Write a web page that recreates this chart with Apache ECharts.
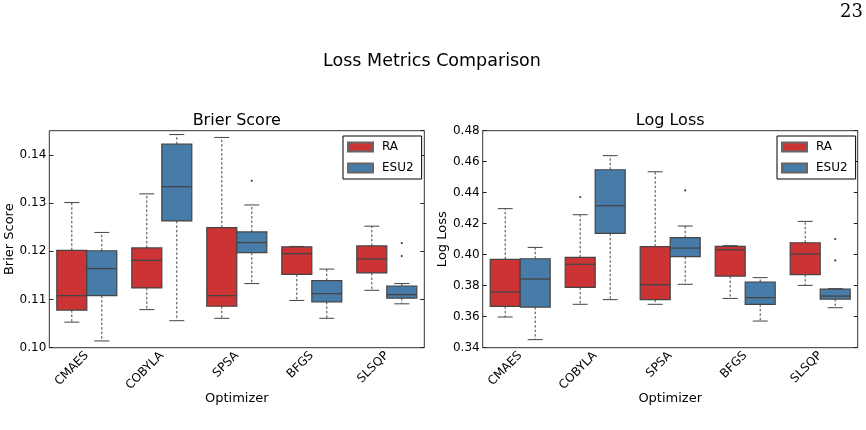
<!DOCTYPE html>
<html>
<head>
<meta charset="utf-8">
<script src="https://cdn.jsdelivr.net/npm/echarts@6/dist/echarts.min.js"></script>
<style>
html, body { margin: 0; padding: 0; background: #fff; }
#chart { width: 866px; height: 430px; }
</style>
</head>
<body>
<div id="chart"></div>
<script>
var optimizers = ['CMAES', 'COBYLA', 'SPSA', 'BFGS', 'SLSQP'];

// box stats per optimizer: [lower whisker, q1, median, q3, upper whisker]
var brierRA = [
    [0.1053, 0.1078, 0.1108, 0.1202, 0.1301],
    [0.1079, 0.1124, 0.1181, 0.1207, 0.1319],
    [0.1061, 0.1086, 0.1108, 0.1249, 0.1436],
    [0.1098, 0.1152, 0.1195, 0.1209, 0.1210],
    [0.1119, 0.1155, 0.1184, 0.1211, 0.1252]
];
var brierESU2 = [
    [0.1014, 0.1108, 0.1164, 0.1201, 0.1239],
    [0.1056, 0.1263, 0.1334, 0.1422, 0.1442],
    [0.1133, 0.1197, 0.1218, 0.1240, 0.1296],
    [0.1061, 0.1095, 0.1112, 0.1139, 0.1163],
    [0.1091, 0.1103, 0.1110, 0.1128, 0.1133]
];
// outliers: [optimizer index, value]
var brierOutRA = [];
var brierOutESU2 = [[2, 0.1346], [4, 0.1217], [4, 0.1190]];

var logRA = [
    [0.3598, 0.3667, 0.3759, 0.3970, 0.4297],
    [0.3680, 0.3789, 0.3938, 0.3983, 0.4258],
    [0.3680, 0.3710, 0.3806, 0.4052, 0.4535],
    [0.3718, 0.3862, 0.4032, 0.4054, 0.4058],
    [0.3802, 0.3871, 0.4004, 0.4077, 0.4215]
];
var logESU2 = [
    [0.3452, 0.3662, 0.3843, 0.3974, 0.4047],
    [0.3710, 0.4138, 0.4316, 0.4548, 0.4639],
    [0.3809, 0.3987, 0.4043, 0.4110, 0.4185],
    [0.3572, 0.3680, 0.3723, 0.3824, 0.3852],
    [0.3658, 0.3714, 0.3733, 0.3778, 0.3781]
];
var logOutRA = [[1, 0.4372]];
var logOutESU2 = [[2, 0.4415], [4, 0.4101], [4, 0.3963]];

// y axis ranges
var brierMin = 0.10, brierMax = 0.145, brierStep = 0.01;
var logMin = 0.34, logMax = 0.48, logStep = 0.02;

var RED = '#cb3335', BLUE = '#477ca8', EDGE = '#444444';
var FONT = 'DejaVu Sans';

function boxData(stats) {
    return stats.map(function (s, i) { return [i].concat(s); });
}

function boxRender(side) {
    return function (params, api) {
        var i = api.value(0);
        var band = api.size([1, 0])[0];
        var w = band * 0.4;
        var yLow = api.coord([i, api.value(1)])[1];
        var yQ1 = api.coord([i, api.value(2)])[1];
        var mid = api.coord([i, api.value(3)]);
        var yQ3 = api.coord([i, api.value(4)])[1];
        var yHigh = api.coord([i, api.value(5)])[1];
        var x0 = side < 0 ? mid[0] - w : mid[0];
        var xm = x0 + w / 2;
        var dash = { stroke: EDGE, lineWidth: 1, lineDash: [2.5, 2] };
        var solid = { stroke: EDGE, lineWidth: 1 };
        return {
            type: 'group',
            children: [
                { type: 'line', shape: { x1: xm, y1: yQ1, x2: xm, y2: yLow }, style: dash },
                { type: 'line', shape: { x1: xm, y1: yQ3, x2: xm, y2: yHigh }, style: dash },
                { type: 'line', shape: { x1: xm - w / 4, y1: yLow, x2: xm + w / 4, y2: yLow }, style: solid },
                { type: 'line', shape: { x1: xm - w / 4, y1: yHigh, x2: xm + w / 4, y2: yHigh }, style: solid },
                { type: 'rect', shape: { x: x0, y: yQ3, width: w, height: yQ1 - yQ3 },
                  style: { fill: api.visual('color'), stroke: EDGE, lineWidth: 1.2 } },
                { type: 'line', shape: { x1: x0, y1: mid[1], x2: x0 + w, y2: mid[1] },
                  style: { stroke: EDGE, lineWidth: 1.3 } }
            ]
        };
    };
}

function outRender(side) {
    return function (params, api) {
        var i = api.value(0);
        var w = api.size([1, 0])[0] * 0.4;
        var p = api.coord([i, api.value(1)]);
        return {
            type: 'circle',
            shape: { cx: p[0] + side * w / 2, cy: p[1], r: 1.1 },
            style: { fill: EDGE }
        };
    };
}

function boxSeries(name, color, stats, side, idx) {
    return {
        type: 'custom', name: name, xAxisIndex: idx * 2, yAxisIndex: idx * 2,
        data: boxData(stats), encode: { x: 0, y: [1, 2, 3, 4, 5] },
        itemStyle: { color: color, borderColor: '#666', borderWidth: 1 },
        renderItem: boxRender(side), silent: true, z: 2
    };
}

function outSeries(name, pts, side, idx) {
    return {
        type: 'custom', name: name, xAxisIndex: idx * 2, yAxisIndex: idx * 2,
        data: pts, encode: { x: 0, y: 1 },
        renderItem: outRender(side), silent: true, z: 3
    };
}

var grids = [
    { left: 49.3, top: 130.7, width: 375, height: 217 },
    { left: 482.7, top: 130.7, width: 375, height: 217 }
];

function xAxes(idx) {
    return [{
        type: 'category', gridIndex: idx, data: optimizers,
        axisLine: { show: false },
        axisTick: { inside: true, alignWithLabel: true, length: 4, lineStyle: { color: '#222' } },
        axisLabel: { rotate: 45, fontSize: 12, fontFamily: FONT, color: '#000', margin: 6 },
        name: 'Optimizer', nameLocation: 'middle', nameGap: 44, nameMoveOverlap: false,
        nameTextStyle: { fontSize: 13, fontFamily: FONT, color: '#000' }
    }, {
        type: 'category', gridIndex: idx, data: optimizers, position: 'top',
        axisLine: { show: false },
        axisTick: { inside: true, alignWithLabel: true, length: 4, lineStyle: { color: '#222' } },
        axisLabel: { show: false }
    }];
}

function yAxes(idx, name, min, max, step) {
    return [{
        type: 'value', gridIndex: idx, min: min, max: max, interval: step,
        axisLine: { show: false }, splitLine: { show: false },
        axisTick: { show: true, inside: true, length: 4, lineStyle: { color: '#222' } },
        axisLabel: { fontSize: 12, fontFamily: FONT, color: '#000', margin: 3, showMaxLabel: max === logMax,
                     formatter: function (v) { return v.toFixed(2); } },
        name: name, nameLocation: 'middle', nameGap: 31, nameRotate: 90,
        nameTextStyle: { fontSize: 13, fontFamily: FONT, color: '#000' }
    }, {
        type: 'value', gridIndex: idx, min: min, max: max, interval: step, position: 'right',
        axisLine: { show: false }, splitLine: { show: false },
        axisTick: { show: true, inside: true, length: 4, lineStyle: { color: '#222' } },
        axisLabel: { show: false }
    }];
}

function legend(left) {
    return {
        left: left, top: 136, orient: 'vertical', data: ['RA', 'ESU2'],
        icon: 'rect', itemWidth: 25, itemHeight: 9, itemGap: 9,
        padding: [5, 8, 5, 4], borderColor: '#000', borderWidth: 1, backgroundColor: '#fff',
        selectedMode: false,
        textStyle: { fontSize: 12, fontFamily: FONT, color: '#000', padding: [0, 0, 0, 4] }
    };
}

var chart = echarts.init(document.getElementById('chart'));
chart.setOption({
    animation: false,
    backgroundColor: '#fff',
    title: [
        { text: 'Loss Metrics Comparison', left: 432, top: 52, textAlign: 'center', padding: 0,
          textStyle: { fontSize: 17.5, fontWeight: 'normal', fontFamily: FONT, color: '#000' } },
        { text: 'Brier Score', left: 236.8, top: 113, textAlign: 'center', padding: 0,
          textStyle: { fontSize: 16, fontWeight: 'normal', fontFamily: FONT, color: '#000' } },
        { text: 'Log Loss', left: 670.2, top: 113, textAlign: 'center', padding: 0,
          textStyle: { fontSize: 16, fontWeight: 'normal', fontFamily: FONT, color: '#000' } },
        { text: '23', left: 863, top: 3, textAlign: 'right', padding: 0,
          textStyle: { fontSize: 18, fontWeight: 'normal', fontFamily: 'DejaVu Serif', color: '#000' } }
    ],
    legend: [legend(343), legend(777)],
    grid: grids.map(function (g) {
        return Object.assign({ show: true, borderColor: '#333', borderWidth: 1, backgroundColor: '#fff' }, g);
    }),
    xAxis: xAxes(0).concat(xAxes(1)),
    yAxis: yAxes(0, 'Brier Score', brierMin, brierMax, brierStep)
        .concat(yAxes(1, 'Log Loss', logMin, logMax, logStep)),
    series: [
        boxSeries('RA', RED, brierRA, -1, 0),
        boxSeries('ESU2', BLUE, brierESU2, 1, 0),
        outSeries('RA outliers', brierOutRA, -1, 0),
        outSeries('ESU2 outliers', brierOutESU2, 1, 0),
        boxSeries('RA', RED, logRA, -1, 1),
        boxSeries('ESU2', BLUE, logESU2, 1, 1),
        outSeries('RA outliers', logOutRA, -1, 1),
        outSeries('ESU2 outliers', logOutESU2, 1, 1)
    ]
});
</script>
</body>
</html>
